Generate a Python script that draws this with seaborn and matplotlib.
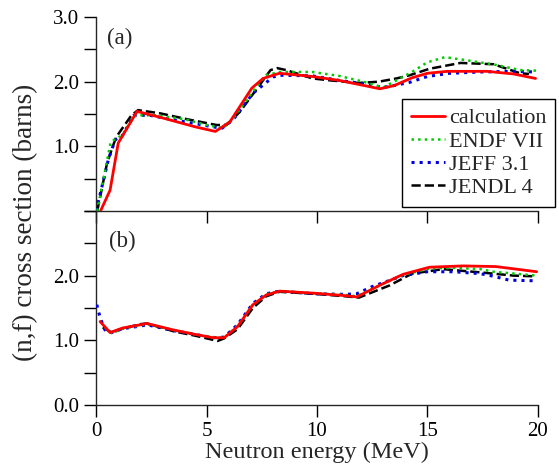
import matplotlib
matplotlib.use('Agg')
import matplotlib.pyplot as plt
import matplotlib.ticker as mticker
import pandas as pd
import seaborn as sns

# Panel (a) data: energy (MeV), cross section (barns)
a_calc_e = [0.2, 0.63, 1.0, 1.85, 3.0, 4.5, 5.4, 6.06, 7.05, 7.56, 8.3, 9.8, 11.0, 12.0, 12.85, 13.5, 14.3, 15.0, 15.9, 16.5, 17.7, 18.9, 19.9]
a_calc_s = [0.0, 0.32, 1.05, 1.54, 1.44, 1.3, 1.23, 1.38, 1.9, 2.05, 2.13, 2.08, 2.02, 1.95, 1.89, 1.94, 2.06, 2.13, 2.16, 2.16, 2.16, 2.12, 2.05]

a_endf_e = [0.05, 0.66, 1.17, 1.76, 2.7, 4.0, 5.0, 5.75, 6.2, 7.1, 7.7, 8.3, 9.8, 11.0, 12.1, 13.0, 14.3, 15.0, 15.8, 16.8, 18.1, 19.2, 20.0]
a_endf_s = [0.0, 1.07, 1.17, 1.48, 1.48, 1.42, 1.33, 1.28, 1.43, 1.85, 2.1, 2.15, 2.15, 2.09, 2.0, 1.91, 2.15, 2.3, 2.38, 2.33, 2.26, 2.18, 2.17]

a_jeff_e = [0.0, 0.55, 0.86, 1.2, 1.7, 2.43, 3.5, 4.5, 5.3, 5.7, 6.2, 7.1, 8.0, 8.3, 9.8, 11.0, 12.1, 12.85, 13.2, 14.2, 15.0, 16.0, 17.4, 18.9, 19.9]
a_jeff_s = [0.0, 0.79, 1.1, 1.17, 1.48, 1.48, 1.41, 1.35, 1.3, 1.28, 1.41, 1.82, 2.07, 2.1, 2.09, 2.02, 1.97, 1.92, 1.92, 1.99, 2.08, 2.13, 2.15, 2.16, 2.15]

a_jendl_e = [0.05, 0.5, 0.9, 1.6, 1.9, 2.9, 4.25, 5.45, 5.9, 6.5, 7.3, 7.9, 8.2, 8.6, 9.8, 10.6, 11.9, 12.8, 13.6, 14.2, 15.1, 16.5, 18.0, 19.2, 19.6]
a_jendl_s = [0.0, 0.75, 1.14, 1.48, 1.56, 1.51, 1.41, 1.33, 1.33, 1.53, 1.9, 2.18, 2.21, 2.18, 2.05, 2.02, 1.98, 2.0, 2.05, 2.1, 2.2, 2.29, 2.27, 2.13, 2.12]

# Panel (b) data
b_calc_e = [0.18, 0.63, 1.2, 2.0, 2.3, 3.5, 4.5, 5.3, 5.8, 6.4, 7.1, 7.7, 8.3, 9.8, 11.3, 11.8, 12.9, 13.9, 15.1, 16.6, 18.1, 19.95]
b_calc_s = [1.29, 1.12, 1.19, 1.24, 1.26, 1.16, 1.09, 1.04, 1.04, 1.21, 1.55, 1.7, 1.76, 1.73, 1.69, 1.67, 1.86, 2.02, 2.13, 2.15, 2.14, 2.06]

b_endf_e = [0.4, 0.7, 1.2, 2.0, 2.3, 3.5, 4.5, 5.3, 5.8, 6.4, 7.1, 7.7, 8.3, 9.8, 11.3, 11.8, 12.9, 13.9, 15.1, 16.2, 17.4, 18.0, 19.95]
b_endf_s = [1.2, 1.11, 1.18, 1.23, 1.25, 1.16, 1.09, 1.05, 1.04, 1.22, 1.55, 1.71, 1.76, 1.73, 1.7, 1.68, 1.86, 2.01, 2.11, 2.12, 2.1, 2.06, 2.0]

b_jeff_e = [0.03, 0.18, 0.4, 0.7, 1.2, 2.0, 2.3, 3.5, 4.5, 5.3, 5.8, 6.4, 7.1, 7.7, 8.3, 9.8, 11.3, 11.8, 12.5, 13.9, 15.0, 16.2, 17.4, 18.0, 18.7, 19.9]
b_jeff_s = [1.55, 1.35, 1.16, 1.12, 1.18, 1.22, 1.24, 1.15, 1.09, 1.04, 1.05, 1.24, 1.57, 1.72, 1.76, 1.72, 1.71, 1.72, 1.83, 2.0, 2.06, 2.06, 2.03, 1.99, 1.93, 1.92]

b_jendl_e = [0.3, 0.7, 1.2, 2.0, 2.3, 3.5, 4.5, 5.5, 5.8, 6.4, 7.1, 7.7, 8.3, 9.8, 11.3, 11.9, 13.3, 14.3, 15.7, 17.4, 18.9, 19.8]
b_jendl_s = [1.2, 1.12, 1.18, 1.25, 1.26, 1.14, 1.07, 0.99, 1.03, 1.17, 1.5, 1.68, 1.75, 1.72, 1.68, 1.66, 1.85, 2.03, 2.1, 2.05, 2.0, 1.99]

labels = ['calculation', 'ENDF VII', 'JEFF 3.1', 'JENDL 4']
colors = ['#ff0000', '#00cc00', '#0000dd', '#000000']
styles = ['-', ':', ':', '--']
widths = [2.0, 1.8, 2.2, 1.8]

sns.set_style('ticks')
plt.rcParams['font.family'] = ['Liberation Serif', 'DejaVu Serif']
plt.rcParams['axes.linewidth'] = 1.0

fig = plt.figure(figsize=(5.59, 4.74), dpi=100)
ax_a = fig.add_axes([0.172, 0.555, 0.79, 0.409])
ax_b = fig.add_axes([0.172, 0.1456, 0.79, 0.4094])

panels = [
    (ax_a, [(a_calc_e, a_calc_s), (a_endf_e, a_endf_s), (a_jeff_e, a_jeff_s), (a_jendl_e, a_jendl_s)]),
    (ax_b, [(b_calc_e, b_calc_s), (b_endf_e, b_endf_s), (b_jeff_e, b_jeff_s), (b_jendl_e, b_jendl_s)]),
]

# Draw reference libraries first, calculation on top
for ax, series in panels:
    for i in [3, 2, 1, 0]:
        e, s = series[i]
        df = pd.DataFrame({'E': e, 'sigma': s})
        sns.lineplot(data=df, x='E', y='sigma', ax=ax, color=colors[i],
                     linestyle=styles[i], linewidth=widths[i], label=labels[i],
                     sort=False, legend=False, zorder=5 if i == 0 else 3)
    ax.set_xlim(0, 20)
    ax.set_ylim(0, 3.0)
    ax.set_xlabel('')
    ax.set_ylabel('')
    ax.spines['top'].set_visible(False)
    ax.spines['right'].set_visible(False)
    ax.xaxis.set_major_locator(mticker.MultipleLocator(5))
    ax.yaxis.set_major_locator(mticker.MultipleLocator(0.5))
    ax.tick_params(direction='out', length=8.5, width=1.0, labelsize=15, colors='black', pad=4)
    ax.patch.set_alpha(0)

# Top panel: labels 1.0, 2.0, 3.0 only, no x labels
ax_a.yaxis.set_major_formatter(mticker.FuncFormatter(
    lambda v, p: '%.1f' % v if abs(v - round(v)) < 1e-6 and v > 0.5 else ''))
ax_a.tick_params(axis='x', labelbottom=False)

# Bottom panel: labels 0.0, 1.0, 2.0
ax_b.yaxis.set_major_formatter(mticker.FuncFormatter(
    lambda v, p: '%.1f' % v if abs(v - round(v)) < 1e-6 and v < 2.5 else ''))

ax_a.text(0.025, 0.89, '(a)', transform=ax_a.transAxes, fontsize=16.5, va='center')
ax_b.text(0.03, 0.845, '(b)', transform=ax_b.transAxes, fontsize=16.5, va='center')

handles, lbls = ax_a.get_legend_handles_labels()
order = [lbls.index(l) for l in labels]
leg = ax_a.legend([handles[k] for k in order], labels, loc='lower right',
                  bbox_to_anchor=(1.04, 0.02), fontsize=16, frameon=True,
                  fancybox=False, edgecolor='black', framealpha=1,
                  handlelength=1.5, handletextpad=0.2, labelspacing=0.12,
                  borderpad=0.4, borderaxespad=0)
leg.get_frame().set_linewidth(1.0)
leg.set_zorder(10)

ax_b.set_xlabel('Neutron energy (MeV)', fontsize=17.5, labelpad=0)
fig.text(0.045, 0.53, '(n,f) cross section (barns)', rotation=90,
         fontsize=19.5, va='center', ha='center')

fig.savefig('out.png', dpi=100)
